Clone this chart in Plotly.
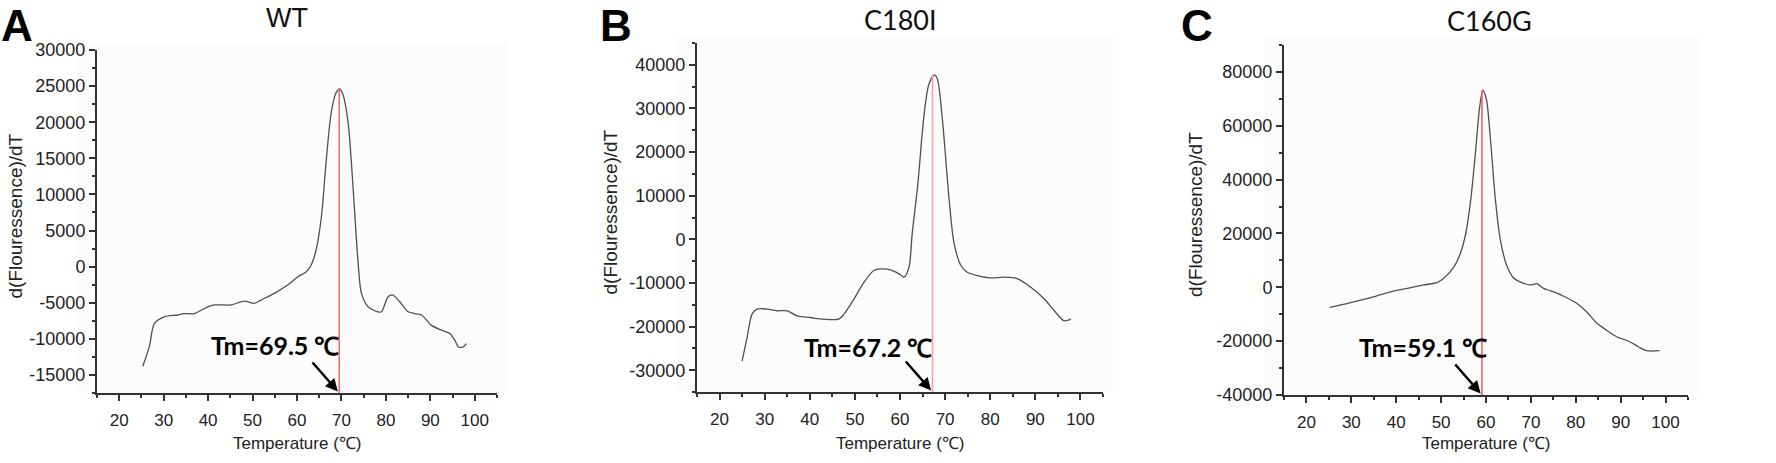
import plotly.graph_objects as go

# ---------------- data ----------------
panel_letters = ["A", "B", "C"]
panel_titles = ["WT", "C180I", "C160G"]
tm_values = [69.5, 67.2, 59.1]
tm_labels = ["Tm=69.5 ℃", "Tm=67.2 ℃", "Tm=59.1 ℃"]
peak_values = [24600, 37700, 73200]

temp_wt = [25.3, 26.8, 27.9, 30.1, 33.1, 34.6, 36.9, 39.9, 41.4, 45.2, 48.2, 50.4, 51.9, 54.9,
           57.9, 60.2, 62.1, 63.2, 64.3, 65.5, 66.6, 67.7, 68.8, 69.6, 70.3, 71.5, 72.6, 73.7,
           74.5, 76.0, 78.2, 79.0, 80.5, 81.6, 83.1, 85.0, 86.5, 88.0, 90.2, 92.5, 94.4, 95.5,
           96.3, 97.4, 98.1]
val_wt = [-13800, -11000, -7900, -6950, -6700, -6500, -6500, -5560, -5300, -5300, -4770, -5090,
          -4630, -3700, -2550, -1400, -700, 230, 2300, 6940, 14860, 21340, 24100, 24600, 23900,
          19950, 11100, 900, -3700, -5560, -6250, -6250, -4170, -3940, -4860, -6250, -6500,
          -6700, -8100, -8800, -9260, -10190, -11100, -11100, -10650]

temp_c180i = [25.0, 26.1, 27.2, 28.3, 30.5, 32.7, 35.0, 37.2, 40.1, 43.1, 46.4, 47.6, 49.8,
              52.0, 54.2, 55.7, 57.9, 59.8, 60.9, 62.0, 62.7, 63.9, 65.3, 66.4, 67.6, 68.3,
              69.4, 70.9, 72.0, 73.5, 74.9, 77.2, 80.1, 83.1, 86.1, 89.0, 92.0, 94.2, 96.4, 97.9]
val_c180i = [-27900, -22500, -17150, -16000, -16000, -16380, -16380, -17540, -17920, -18310,
             -18310, -17150, -13690, -9850, -7150, -6770, -7000, -7920, -8690, -6380, 1310,
             12080, 28230, 35540, 37700, 36690, 27460, 9000, -1000, -6000, -7540, -8310, -8850,
             -8690, -9080, -11000, -13690, -16380, -18690, -18310]

temp_c160g = [25.2, 29.2, 33.7, 38.1, 42.5, 46.2, 49.2, 50.6, 52.9, 54.3, 55.5, 56.6, 57.7,
              58.6, 59.3, 60.1, 61.0, 62.1, 63.2, 64.7, 66.2, 68.4, 69.9, 71.3, 72.8, 74.3,
              77.2, 80.2, 82.4, 84.6, 86.8, 89.1, 92.0, 93.9, 95.7, 98.7]
val_c160g = [-7440, -5950, -4090, -1980, -370, 870, 1860, 3350, 7690, 12640, 20080, 32480,
             51070, 67190, 73200, 69670, 54790, 32480, 17600, 7690, 3350, 1490, 870, 1360,
             -370, -1240, -3220, -5950, -9050, -13140, -15870, -18350, -20210, -22070, -23550,
             -23550]

x_ticks = [20, 30, 40, 50, 60, 70, 80, 90, 100]
y_ticks_wt = [-15000, -10000, -5000, 0, 5000, 10000, 15000, 20000, 25000, 30000]
y_ticks_c180i = [-30000, -20000, -10000, 0, 10000, 20000, 30000, 40000]
y_ticks_c160g = [-40000, -20000, 0, 20000, 40000, 60000, 80000]

temps = [temp_wt, temp_c180i, temp_c160g]
vals = [val_wt, val_c180i, val_c160g]
y_ticks = [y_ticks_wt, y_ticks_c180i, y_ticks_c160g]

# ---------------- layout geometry ----------------
W, H = 1776, 463
x_range = [15, 105]
y_ranges = [[-17500, 30000], [-35000, 45000], [-40000, 90000]]
y_minor = [2500, 5000, 10000]
# pixel boxes: left, right, top, bottom
boxes = [(97, 497, 50, 393), (697, 1103, 43, 392), (1284, 1688, 45, 395)]
letter_x = [17, 616, 1197]
title_px = [(287, 18), (900, 19), (1489, 20)]
ylab_px = [15, 610, 1196]
tm_text_px = [(275, 345), (868, 347), (1423, 347)]
title_fonts = ["Liberation Sans, Arial", "Lato, Open Sans", "Lato, Open Sans"]
red_colors = ["#f26d6d", "#f5a3a3", "#ef6262"]

fig = go.Figure()
annotations = []
shapes = []

for i in range(3):
    sfx = "" if i == 0 else str(i + 1)
    xa, ya = "x" + sfx, "y" + sfx
    l, r, t, b = boxes[i]
    fig.add_trace(go.Scatter(x=temps[i], y=vals[i], mode="lines",
                             line=dict(color="#505050", width=1.3, shape="spline", smoothing=0.8),
                             xaxis=xa, yaxis=ya, showlegend=False, hoverinfo="skip"))
    # red Tm line
    fig.add_trace(go.Scatter(x=[tm_values[i], tm_values[i]], y=[y_ranges[i][0], peak_values[i]],
                             mode="lines", line=dict(color=red_colors[i], width=1.6),
                             xaxis=xa, yaxis=ya, showlegend=False, hoverinfo="skip"))
    axis_common = dict(showline=True, linecolor="#333333", linewidth=2, ticks="outside",
                       tickcolor="#333333", tickwidth=1.5, ticklen=6, showgrid=False,
                       zeroline=False, automargin=False)
    fig.update_layout(**{
        "xaxis" + sfx: dict(domain=[l / W, r / W], range=x_range, anchor=ya,
                            tickmode="array", tickvals=x_ticks,
                            ticktext=[str(v) for v in x_ticks], ticklabelstandoff=5,
                            tickfont=dict(family="Liberation Sans, Arial", size=17,
                                          color="#222222"),
                            minor=dict(dtick=5, tick0=0, ticks="outside", ticklen=3,
                                       tickcolor="#333333", tickwidth=1.5),
                            **axis_common),
        "yaxis" + sfx: dict(domain=[(H - b) / H, (H - t) / H], range=y_ranges[i], anchor=xa,
                            tickmode="array", tickvals=y_ticks[i],
                            ticktext=[str(v) for v in y_ticks[i]],
                            tickfont=dict(family="Liberation Sans, Arial", size=18,
                                          color="#222222"),
                            minor=dict(dtick=y_minor[i], tick0=0, ticks="outside", ticklen=3,
                                       tickcolor="#333333", tickwidth=1.5),
                            **axis_common),
    })
    # plot background
    shapes.append(dict(type="rect", xref="paper", yref="paper", layer="below",
                       x0=(l - 20) / W, x1=(r + 10) / W, y0=(H - b) / H, y1=(H - t + 8) / H,
                       fillcolor="#fcfcfc", line=dict(width=0)))
    # panel letter (anchored to the top edge so it stays fully inside the page)
    annotations.append(dict(text="<b>%s</b>" % panel_letters[i], xref="paper", yref="paper",
                            x=letter_x[i] / W, y=1, xanchor="center", yanchor="top",
                            showarrow=False, borderpad=0,
                            font=dict(family="Liberation Sans, Arial", size=44, color="black")))
    # title
    annotations.append(dict(text=panel_titles[i], xref="paper", yref="paper",
                            x=title_px[i][0] / W, y=1 - title_px[i][1] / H,
                            xanchor="center", yanchor="middle", showarrow=False,
                            font=dict(family=title_fonts[i], size=27, color="#111111")))
    # x axis title
    annotations.append(dict(text="Temperature (℃)", xref="paper", yref="paper",
                            x=(l + r) / 2 / W, y=1 - 443 / H, xanchor="center",
                            yanchor="middle", showarrow=False,
                            font=dict(family="Liberation Sans, Arial", size=17, color="#222222")))
    # y axis title
    annotations.append(dict(text="d(Flouressence)/dT", xref="paper", yref="paper",
                            x=ylab_px[i] / W, y=1 - ((t + b) / 2 - 5) / H, textangle=-90,
                            xanchor="center", yanchor="middle", showarrow=False,
                            font=dict(family="Liberation Sans, Arial", size=19, color="#222222")))
    # Tm label
    annotations.append(dict(text="<b>%s</b>" % tm_labels[i], xref="paper", yref="paper",
                            x=tm_text_px[i][0] / W, y=1 - tm_text_px[i][1] / H,
                            xanchor="center", yanchor="middle", showarrow=False,
                            font=dict(family="Lato, Open Sans", size=25, color="black")))
    # arrow
    annotations.append(dict(text="", xref=xa, yref=ya, x=tm_values[i], y=y_ranges[i][0],
                            ax=-28, ay=-32, showarrow=True, arrowhead=2, arrowsize=1,
                            arrowwidth=2.5, arrowcolor="black", standoff=2))

fig.update_layout(width=W, height=H, margin=dict(l=0, r=0, t=0, b=0, autoexpand=False),
                  paper_bgcolor="white", plot_bgcolor="#fcfcfc",
                  annotations=annotations, shapes=shapes)

fig.write_html("out.html", config={"displayModeBar": False},
               post_script="document.body.style.margin='0';document.body.style.overflow='hidden';")
